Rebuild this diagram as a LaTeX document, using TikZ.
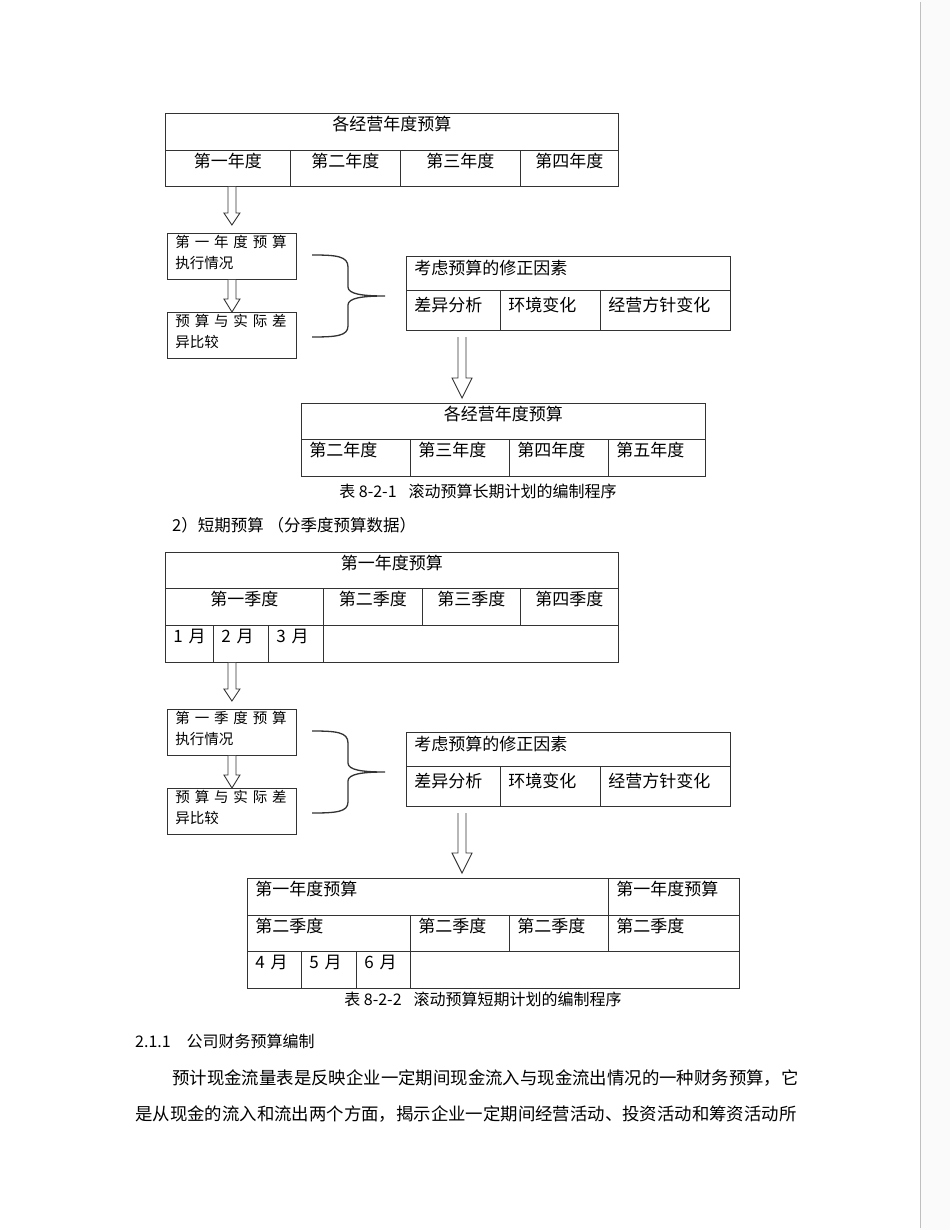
\documentclass[tikz,border=0pt]{standalone}
\usepackage{fontspec}
\setmainfont{Noto Sans CJK SC}
\usetikzlibrary{calc}

\tikzset{
  cell/.style={draw=black!80, line width=0.9pt, anchor=north west, inner xsep=8pt, inner ysep=0pt,
    align=center, font=\fontsize{17}{20}\selectfont},
  hollow/.style={draw=black!80, line width=0.9pt, fill=white, line join=miter},
  brace/.style={draw=black!80, line width=1.3pt},
  plain/.style={inner sep=0pt, anchor=base west, font=\fontsize{16}{20}\selectfont},
}
% cell: [options] name, x1, y1, x2, y2 (page pixels), text
\newcommand\cellbase{17.5}
\newcommand\cell[7][]{%
  \pgfmathsetmacro\cw{(#5)-(#3)-16}\pgfmathsetmacro\cd{(#6)-(#4)-\cellbase}%
  \node[cell,text width=\cw pt,text height=\cellbase pt,text depth=\cd pt,#1] (#2) at (#3,#4) {#7};}
% hollow block arrow pointing down: start, tip, head half width, head length
\newcommand\hollowdown[4]{%
  \filldraw[hollow] ($(#1)+(-4,0)$) -- ($(#2)+(-4,-#4)$) -- ($(#2)+(-#3,-#4)$) -- (#2)
    -- ($(#2)+(#3,-#4)$) -- ($(#2)+(4,-#4)$) -- ($(#1)+(4,0)$);}

\begin{document}
\begin{tikzpicture}[x=1pt,y=-1pt]
  \useasboundingbox (0,0) rectangle (950,1230);
  \fill[white] (0,0) rectangle (950,1230);
  \fill[black!2] (920,0) rectangle (950,1230);
  \draw[black!25, line width=1pt] (920,2) -- (920,1228);

  % long-term plan
  \cell{yearall1}{165}{113}{618}{150}{各经营年度预算}
  \cell{oldbot1}{165}{150}{290}{186}{第一年度}
  \cell{yr2}{290}{150}{400}{186}{第二年度}
  \cell{yr3}{400}{150}{520}{186}{第三年度}
  \cell{yr4}{520}{150}{618}{186}{第四年度}

  \cell{newtop1}{301}{403}{705}{439}{各经营年度预算}
  \cell[align=left]{nyr2}{301}{439}{410}{476}{第二年度}
  \cell[align=left]{nyr3}{410}{439}{509}{476}{第三年度}
  \cell[align=left]{nyr4}{509}{439}{608}{476}{第四年度}
  \cell[align=left]{nyr5}{608}{439}{705}{476}{第五年度}
  \node[plain, anchor=base] (cap1) at (478,497) {表 8-2-1\hspace{12pt}滚动预算长期计划的编制程序};

  \node[plain, font=\fontsize{16.5}{20}\selectfont] (short) at (172,531) {2）短期预算 （分季度预算数据）};

  % short-term plan
  \cell{yearall2}{165}{552}{618}{588}{第一年度预算}
  \cell{q1}{165}{588}{323}{625}{第一季度}
  \cell{q2}{323}{588}{422}{625}{第二季度}
  \cell{q3}{422}{588}{520}{625}{第三季度}
  \cell{q4}{520}{588}{618}{625}{第四季度}
  \cell[align=left]{oldbot2}{165}{625}{213}{662}{\mbox{1 月}}
  \cell[align=left]{m2}{213}{625}{268}{662}{\mbox{2 月}}
  \cell[align=left]{m3}{268}{625}{323}{662}{\mbox{3 月}}
  \cell{mrest}{323}{625}{618}{662}{}

  \cell[align=left]{newtop2}{247}{878}{608}{915}{第一年度预算}
  \cell[align=left]{nyear}{608}{878}{739}{915}{第一年度预算}
  \cell[align=left]{nq2}{247}{915}{410}{951}{第二季度}
  \cell[align=left]{nq3}{410}{915}{509}{951}{第二季度}
  \cell[align=left]{nq4}{509}{915}{608}{951}{第二季度}
  \cell[align=left]{nq5}{608}{915}{739}{951}{第二季度}
  \cell[align=left]{nm4}{247}{951}{301}{988}{\mbox{4 月}}
  \cell[align=left]{nm5}{301}{951}{356}{988}{\mbox{5 月}}
  \cell[align=left]{nm6}{356}{951}{410}{988}{\mbox{6 月}}
  \cell{nmrest}{410}{951}{739}{988}{}
  \node[plain, anchor=base] (cap2) at (483,1005) {表 8-2-2\hspace{12pt}滚动预算短期计划的编制程序};

  % execution, comparison and revision, same for both plans
  \foreach \dy/\fig/\unit in {0/1/年, 476/2/季}{
    \renewcommand\cellbase{14}
    \cell[align=left,font=\fontsize{14.5}{21}\selectfont]{exec\fig}{167}{233+\dy}{296}{279+\dy}{\makebox[113pt][s]{第 一 \unit{} 度 预 算}\\执行情况}
    \cell[align=left,font=\fontsize{14.5}{21}\selectfont]{cmp\fig}{167}{312+\dy}{296}{358+\dy}{\makebox[113pt][s]{预 算 与 实 际 差}\\异比较}
    \renewcommand\cellbase{18}
    \cell[align=left]{fix\fig}{406}{256+\dy}{730}{290+\dy}{考虑预算的修正因素}
    \renewcommand\cellbase{21}
    \cell[align=left]{fa\fig}{406}{290+\dy}{500}{330+\dy}{差异分析}
    \cell[align=left]{fb\fig}{500}{290+\dy}{600}{330+\dy}{环境变化}
    \cell[align=left]{fc\fig}{600}{290+\dy}{730}{330+\dy}{经营方针变化}

    \draw[brace, yshift=-\dy pt] (312,255) .. controls (336,255) and (348,256) .. (348,267) -- (348,287)
      .. controls (348,294) and (362,296) .. (385,296)
      .. controls (362,296) and (348,298) .. (348,305) -- (348,326)
      .. controls (348,336) and (336,337) .. (312,337);

    \coordinate (feedtop\fig) at (exec\fig.north |- oldbot\fig.south);
    \coordinate (feedtip\fig) at ($(exec\fig.north)+(0,-8)$);
    \hollowdown{feedtop\fig}{feedtip\fig}{8}{12}
    \hollowdown{exec\fig.south}{cmp\fig.north}{8}{13}
    \coordinate (droptop\fig) at (462,337+\dy);
    \coordinate (droptip\fig) at ($(droptop\fig |- newtop\fig.north)+(0,-5)$);
    \hollowdown{droptop\fig}{droptip\fig}{10}{20}
  }

  \node[plain] (sec) at (135,1047) {2.1.1\hspace{16pt}公司财务预算编制};
  \node[plain, font=\fontsize{17.4}{20}\selectfont] (para1) at (172,1084) {预计现金流量表是反映企业一定期间现金流入与现金流出情况的一种财务预算，它};
  \node[plain, font=\fontsize{17.4}{20}\selectfont] (para2) at (135,1120) {是从现金的流入和流出两个方面，揭示企业一定期间经营活动、投资活动和筹资活动所};
\end{tikzpicture}
\end{document}
